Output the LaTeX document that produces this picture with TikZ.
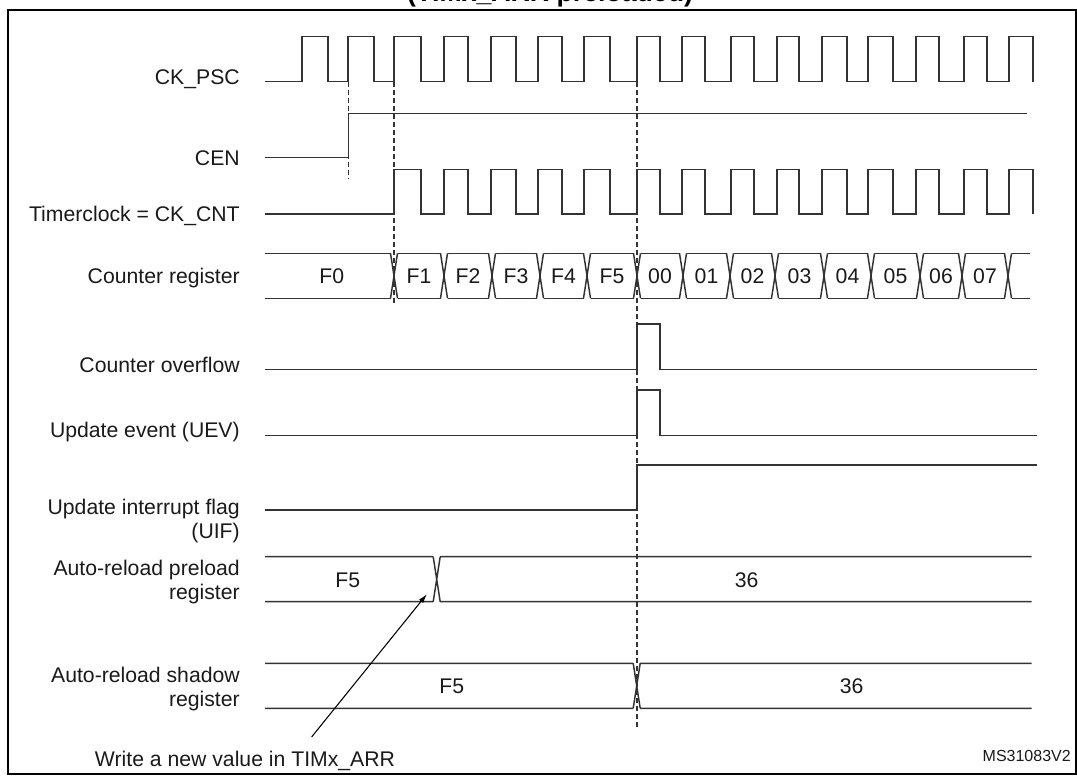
\documentclass[tikz,border=0pt]{standalone}
\usepackage{fontspec}
\setmainfont{Liberation Sans}
\usetikzlibrary{arrows.meta}
\definecolor{sigc}{HTML}{333333}
\definecolor{txtc}{HTML}{1A1A1A}
\begin{document}
\begin{tikzpicture}[x=0.75pt,y=-0.75pt,
  wave/.style={draw=sigc,line width=1.1pt,line join=miter,line cap=butt},
  guide/.style={draw=sigc,line width=1.1pt,dash pattern=on 3.6pt off 2.4pt},
  lbl/.style={anchor=base east,inner sep=0pt,text=txtc,font=\fontsize{15.9pt}{18pt}\selectfont},
  val/.style={anchor=base,inner sep=0pt,text=txtc,font=\fontsize{15.9pt}{18pt}\selectfont},
  framebox/.style={draw=black,line width=1.8pt},
  pointer/.style={draw=black,line width=0.8pt,-{Latex[length=7pt,width=4pt]}}]
\useasboundingbox (0,0) rectangle (1077,775);
\fill[white] (0,0) rectangle (1077,775);

% title (mostly cut off above the frame)
\node[anchor=base,inner sep=0pt,text=black,font=\bfseries\fontsize{20pt}{24pt}\selectfont] (title) at (550,1.5) {(TIMx\_ARR preloaded)};

% frame
\draw[framebox] (7.7,10) rectangle (1076,774);

% signal names
\node[lbl] (lpsc) at (240,84) {CK\_PSC};
\node[lbl] (lcen) at (240,165) {CEN};
\node[lbl] (lcnt) at (240,221) {Timerclock = CK\_CNT};
\node[lbl] (lreg) at (240,283.4) {Counter register};
\node[lbl] (lovf) at (240,372.3) {Counter overflow};
\node[lbl] (luev) at (240,437.5) {Update event (UEV)};
\node[lbl] (luifa) at (240,514) {Update interrupt flag};
\node[lbl] (luifb) at (240,538) {(UIF)};
\node[lbl] (lprea) at (240,575) {Auto-reload preload};
\node[lbl] (lpreb) at (240,599) {register};
\node[lbl] (lshda) at (240,682) {Auto-reload shadow};
\node[lbl] (lshdb) at (240,706) {register};

% CK_PSC
\draw[wave] (265,81.7) foreach \r/\f in {302/328,348/374,394/421,444/468,491/516,538/562,584/610,637/660,682/705,731/754,777/799,822/847,868/893,916/939,964/987,1009/1033} { -- (\r,81.7) -- (\r,36.7) -- (\f,36.7) -- (\f,81.7) };

% CEN
\draw[wave] (265,157.3) -- (348.3,157.3) -- (348.3,113.3) -- (1026.7,113.3);

% Timerclock
\draw[wave] (265,214) foreach \r/\f in {394/421,444/468,491/516,538/562,584/610,637/660,682/705,731/754,777/799,822/847,868/893,916/939,964/987,1009/1033} { -- (\r,214) -- (\r,169.3) -- (\f,169.3) -- (\f,214) };

% Counter register
\foreach \a/\b in {261.5/394,394/444,444/492,492/540,540/587,587/637,637/683,683/730,730/775,775/824,824/871,871/920,920/962,962/1008,1008/1033.5}
  \draw[wave] ({\a+3.5},253.3) -- ({\b-3.5},253.3) ({\a+3.5},298.3) -- ({\b-3.5},298.3);
\foreach \c in {394,444,492,540,587,637,683,730,775,824,871,920,962,1008}
  \draw[wave] ({\c-3.5},253.3) -- ({\c+3.5},298.3) ({\c-3.5},298.3) -- ({\c+3.5},253.3);
\node[val] (crF0) at (331.7,283.4) {F0};
\foreach \t/\x in {F1/419,F2/468,F3/516,F4/563.5,F5/612,00/660,01/706.5,02/752.5,03/799.5,04/847.5,05/895.5,06/941,07/985}
  \node[val] (cr\t) at (\x,283.4) {\t};

% Counter overflow
\draw[wave] (265,369.3) -- (637,369.3) -- (637,324) -- (660,324) -- (660,369.3) -- (1036.7,369.3);
% Update event
\draw[wave] (265,435.7) -- (637,435.7) -- (637,390) -- (660,390) -- (660,435.7) -- (1036.7,435.7);
% UIF
\draw[wave] (265,510) -- (637,510) -- (637,465) -- (1036.7,465);

% Auto-reload preload register
\draw[wave] (265,556.7) -- (433.2,556.7) (265,601.7) -- (433.2,601.7)
            (440.2,556.7) -- (1031.7,556.7) (440.2,601.7) -- (1031.7,601.7)
            (433.2,556.7) -- (440.2,601.7) (433.2,601.7) -- (440.2,556.7);
\node[val] (preF5) at (347.8,587.6) {F5};
\node[val] (pre36) at (746.7,587.6) {36};

% Auto-reload shadow register
\draw[wave] (265,663.3) -- (633.2,663.3) (265,708.3) -- (633.2,708.3)
            (640.2,663.3) -- (1031.7,663.3) (640.2,708.3) -- (1031.7,708.3)
            (633.2,663.3) -- (640.2,708.3) (633.2,708.3) -- (640.2,663.3);
\node[val] (shdF5) at (451.7,693.4) {F5};
\node[val] (shd36) at (851.7,693.4) {36};

% dashed guide lines
\draw[guide] (348.3,81.7) -- (348.3,178);
\draw[guide] (394,81.7) -- (394,305);
\draw[guide] (637,81.7) -- (637,728.3);

% annotation
\node[anchor=base,inner sep=0pt,text=txtc,font=\fontsize{15.9pt}{18pt}\selectfont] (write) at (245,766) {Write a new value in TIMx\_ARR};
\coordinate (wtail) at (311.6,737);
\coordinate (wtip) at (427,594);
\draw[pointer] (wtail) -- (wtip);

\node[anchor=base,inner sep=0pt,text=txtc,font=\fontsize{12pt}{14pt}\selectfont] (ms) at (1026.7,761) {MS31083V2};
\end{tikzpicture}
\end{document}
